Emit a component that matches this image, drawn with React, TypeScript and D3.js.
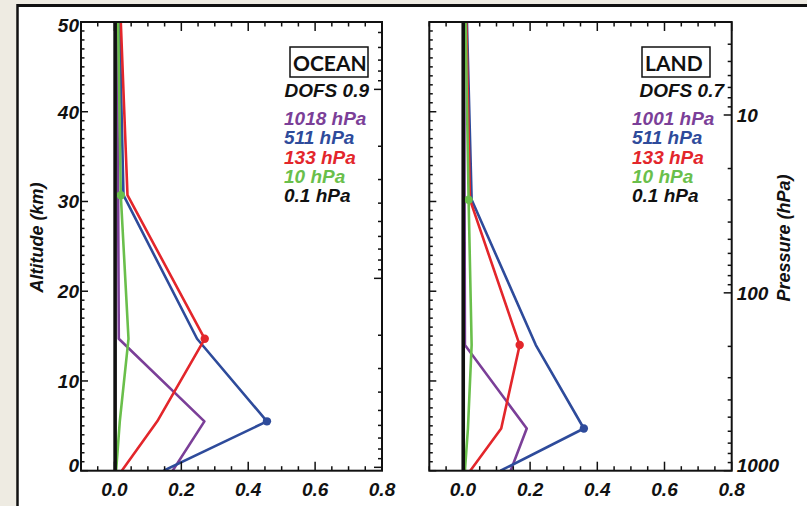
import React from "react";
import * as d3 from "d3";

const W = 807;
const H = 506;

// ---- tick labels ----
const xTickValues = [0.0, 0.2, 0.4, 0.6, 0.8];
const xTickLabels = ["0.0", "0.2", "0.4", "0.6", "0.8"];
const altTickValues = [0, 10, 20, 30, 40, 50];
const altTickLabels = ["0", "10", "20", "30", "40", "50"];
const pressureTickValues = [10, 100, 1000];
const pressureTickLabels = ["10", "100", "1000"];

// ---- axis domains ----
const kernelDomain = [-0.1, 0.8];
const altDomain = [0, 50];
const oceanPressureDomain = [1042, 4.4];
const landPressureDomain = [1000, 3.0];

// ---- OCEAN averaging kernels (x) vs altitude (km) ----
const oceanAlt = [0, 5.5, 14.7, 30.7, 50];
const ocean1018 = [0.174, 0.269, 0.013, 0.011, 0.007];
const ocean511 = [0.147, 0.456, 0.247, 0.027, 0.015];
const ocean133 = [0.022, 0.128, 0.27, 0.039, 0.019];
const ocean10 = [0.005, 0.016, 0.042, 0.019, 0.011];
const ocean01 = [0.002, 0.002, 0.002, 0.002, 0.002];

// ---- LAND averaging kernels ----
const landAlt = [0, 4.7, 14.0, 30.2, 50];
const land1001 = [0.142, 0.19, 0.006, 0.005, 0.004];
const land511 = [0.112, 0.36, 0.217, 0.026, 0.012];
const land133 = [0.022, 0.114, 0.169, 0.021, 0.01];
const land10 = [0.006, 0.015, 0.026, 0.017, 0.008];
const land01 = [0.001, 0.001, 0.001, 0.001, 0.001];

const oceanLabels = ["1018 hPa", "511 hPa", "133 hPa", "10 hPa", "0.1 hPa"];
const landLabels = ["1001 hPa", "511 hPa", "133 hPa", "10 hPa", "0.1 hPa"];
const oceanMarkerIdx = [-1, 1, 2, 3, -1];
const landMarkerIdx = [-1, 1, 2, 3, -1];

const colors = ["#7b3f98", "#2e4b9b", "#e3262b", "#6abf4b", "#111111"];
const lineWidths = [2.6, 2.6, 2.6, 2.6, 3.6];

const FONT = "'Liberation Sans', Arial, Helvetica, sans-serif";
const FS = 19;

const TOP = 22;
const BOTTOM = 470.7;

type PanelProps = {
  id: string;
  x0: number;
  x1: number;
  alt: number[];
  series: number[][];
  markerIdx: number[];
  labels: string[];
  pDomain: number[];
  title: string;
  dofs: string;
  showAltLabels: boolean;
  showPLabels: boolean;
  boxX: number;
  boxW: number;
  dofsRight: number;
  legendLeft: number;
};

function Panel(p: PanelProps) {
  const x = d3.scaleLinear().domain(kernelDomain).range([p.x0, p.x1]);
  const y = d3.scaleLinear().domain(altDomain).range([BOTTOM, TOP]);
  const yp = d3.scaleLog().domain(p.pDomain).range([BOTTOM, TOP]);

  const xMinor = d3.range(-0.1, 0.8001, 0.05).map((v) => Math.round(v * 100) / 100);
  const altMinor = d3.range(0, 51, 1);

  const pMinor: number[] = [];
  [1, 10, 100, 1000].forEach((dec) => {
    for (let m = 1; m <= 9; m++) {
      const v = dec * m;
      const lo = Math.min(p.pDomain[0], p.pDomain[1]);
      const hi = Math.max(p.pDomain[0], p.pDomain[1]);
      if (v >= lo && v <= hi) pMinor.push(v);
    }
  });

  const line = d3
    .line<[number, number]>()
    .x((d) => x(d[0]))
    .y((d) => y(d[1]));

  const majorLen = 9;
  const minorLen = 4.5;

  const isMajorX = (v: number) => xTickValues.some((t) => Math.abs(t - v) < 1e-6);
  const isMajorP = (v: number) => pressureTickValues.includes(v);

  return (
    <g>
      <defs>
        <clipPath id={"clip-" + p.id}>
          <rect x={p.x0} y={TOP} width={p.x1 - p.x0} height={BOTTOM - TOP} />
        </clipPath>
      </defs>

      {/* series */}
      <g clipPath={`url(#clip-${p.id})`}>
        {p.series.map((s, i) => {
          const pts: [number, number][] = s.map((v, j) => [v, p.alt[j]]);
          return (
            <g key={i}>
              <path
                d={line(pts) || ""}
                fill="none"
                stroke={colors[i]}
                strokeWidth={lineWidths[i]}
                strokeLinejoin="round"
              />
              {p.markerIdx[i] >= 0 && (
                <circle
                  cx={x(s[p.markerIdx[i]])}
                  cy={y(p.alt[p.markerIdx[i]])}
                  r={4.2}
                  fill={colors[i]}
                />
              )}
            </g>
          );
        })}
      </g>

      {/* frame */}
      <rect
        x={p.x0}
        y={TOP}
        width={p.x1 - p.x0}
        height={BOTTOM - TOP}
        fill="none"
        stroke="#111"
        strokeWidth={2}
      />

      {/* x ticks bottom & top */}
      {xMinor.map((v) => {
        const len = isMajorX(v) ? majorLen : minorLen;
        return (
          <g key={"xt" + v}>
            <line x1={x(v)} x2={x(v)} y1={BOTTOM} y2={BOTTOM - len} stroke="#111" strokeWidth={1.5} />
            <line x1={x(v)} x2={x(v)} y1={TOP} y2={TOP + len} stroke="#111" strokeWidth={1.5} />
          </g>
        );
      })}
      {xTickValues.map((v, i) => (
        <text
          key={"xl" + v}
          x={x(v)}
          y={489}
          dy="0.36em"
          textAnchor="middle"
          fontFamily={FONT}
          fontWeight="bold"
          fontStyle="italic"
          fontSize={FS}
          fill="#111"
        >
          {xTickLabels[i]}
        </text>
      ))}

      {/* altitude ticks on left */}
      {altMinor.map((v) => {
        const len = v % 10 === 0 ? 7 : 3.5;
        return (
          <line key={"at" + v} x1={p.x0} x2={p.x0 + len} y1={y(v)} y2={y(v)} stroke="#111" strokeWidth={1.5} />
        );
      })}
      {p.showAltLabels &&
        altTickValues.map((v, i) => (
          <text
            key={"al" + v}
            x={p.x0 - 2}
            y={Math.min(Math.max(y(v), TOP + 3), BOTTOM - 6)}
            dy="0.36em"
            textAnchor="end"
            fontFamily={FONT}
            fontWeight="bold"
            fontStyle="italic"
            fontSize={FS}
            fill="#111"
          >
            {altTickLabels[i]}
          </text>
        ))}

      {/* pressure ticks on right */}
      {pMinor.map((v) => {
        const len = isMajorP(v) ? 8 : 4;
        return (
          <line key={"pt" + v} x1={p.x1} x2={p.x1 - len} y1={yp(v)} y2={yp(v)} stroke="#111" strokeWidth={1.5} />
        );
      })}
      {p.showPLabels &&
        pressureTickValues.map((v, i) => (
          <text
            key={"pl" + v}
            x={p.x1 + 5}
            y={Math.min(yp(v), BOTTOM - 6)}
            dy="0.36em"
            textAnchor="start"
            fontFamily={FONT}
            fontWeight="bold"
            fontStyle="italic"
            fontSize={FS}
            fill="#111"
          >
            {pressureTickLabels[i]}
          </text>
        ))}

      {/* title box */}
      <rect x={p.boxX} y={47} width={p.boxW} height={30} fill="#fff" stroke="#111" strokeWidth={1.5} />
      <text
        x={p.boxX + 3}
        y={63}
        dy="0.36em"
        fontFamily="Lato, 'Open Sans', sans-serif"
        fontWeight="bold"
        fontSize={21}
        fill="#111"
      >
        {p.title}
      </text>
      <text
        x={p.dofsRight}
        y={90}
        dy="0.36em"
        textAnchor="end"
        fontFamily={FONT}
        fontWeight="bold"
        fontStyle="italic"
        fontSize={FS}
        fill="#111"
      >
        {p.dofs}
      </text>
      {p.labels.map((l, i) => (
        <text
          key={"lg" + i}
          x={p.legendLeft}
          y={118.3 + i * 19.2}
          dy="0.36em"
          fontFamily={FONT}
          fontWeight="bold"
          fontStyle="italic"
          fontSize={FS}
          fill={colors[i]}
        >
          {l}
        </text>
      ))}
    </g>
  );
}

export default function App() {
  return (
    <svg
      width={W}
      height={H}
      viewBox={`0 0 ${W} ${H}`}
      style={{ position: "fixed", top: 0, left: 0, display: "block" }}
    >
      <rect x={0} y={0} width={W} height={H} fill="#eeebe2" />
      <rect x={18} y={5.5} width={W} height={H} fill="#ffffff" />
      <line x1={17} x2={W} y1={5.5} y2={5.5} stroke="#111" strokeWidth={3} />
      <line x1={17.5} x2={17.5} y1={4} y2={H} stroke="#111" strokeWidth={2.5} />

      <Panel
        id="ocean"
        x0={81}
        x1={382}
        alt={oceanAlt}
        series={[ocean1018, ocean511, ocean133, ocean10, ocean01]}
        markerIdx={oceanMarkerIdx}
        labels={oceanLabels}
        pDomain={oceanPressureDomain}
        title="OCEAN"
        dofs="DOFS 0.9"
        showAltLabels={true}
        showPLabels={false}
        boxX={290}
        boxW={78}
        dofsRight={369}
        legendLeft={284}
      />
      <Panel
        id="land"
        x0={429.3}
        x1={731.7}
        alt={landAlt}
        series={[land1001, land511, land133, land10, land01]}
        markerIdx={landMarkerIdx}
        labels={landLabels}
        pDomain={landPressureDomain}
        title="LAND"
        dofs="DOFS 0.7"
        showAltLabels={false}
        showPLabels={true}
        boxX={642}
        boxW={68}
        dofsRight={724}
        legendLeft={632}
      />

      <text
        transform={`translate(43,237.5) rotate(-90)`}
        textAnchor="middle"
        fontFamily={FONT}
        fontWeight="bold"
        fontStyle="italic"
        fontSize={18}
        fill="#111"
      >
        Altitude (km)
      </text>
      <text
        transform={`translate(789.5,238) rotate(-90)`}
        textAnchor="middle"
        fontFamily={FONT}
        fontWeight="bold"
        fontStyle="italic"
        fontSize={18}
        fill="#111"
      >
        Pressure (hPa)
      </text>
    </svg>
  );
}
